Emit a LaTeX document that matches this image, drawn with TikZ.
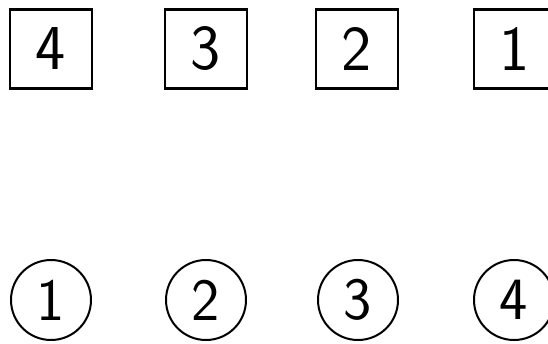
\documentclass[tikz,border=0pt]{standalone}
\usepackage{tikz}

\tikzset{
  sqbox/.style={draw, line width=2.2pt, minimum width=82pt, minimum height=79pt,
    inner sep=0pt, font=\sffamily\fontsize{64}{64}\selectfont},
  ringbox/.style={draw, circle, line width=2pt, minimum size=80pt,
    inner sep=0pt, font=\sffamily\fontsize{60}{60}\selectfont}
}

\begin{document}
\begin{tikzpicture}[x=1pt, y=-1pt]

      \clip (0,0) rectangle (548,343);

      \def\rowTop{49}
      \def\rowBot{300}

      % top row, numbered right to left
      \foreach \lbl/\cx [count=\i] in {4/51,3/206,2/357,1/515}{
        \node[sqbox] (box\i) at (\cx,\rowTop) {\lbl};
      }

      % bottom row, numbered left to right
      \foreach \lbl/\cx [count=\i] in {1/51,2/206,3/358,4/514}{
        \node[ringbox] (ring\i) at (\cx,\rowBot) {\lbl};
      }

\end{tikzpicture}
\end{document}
